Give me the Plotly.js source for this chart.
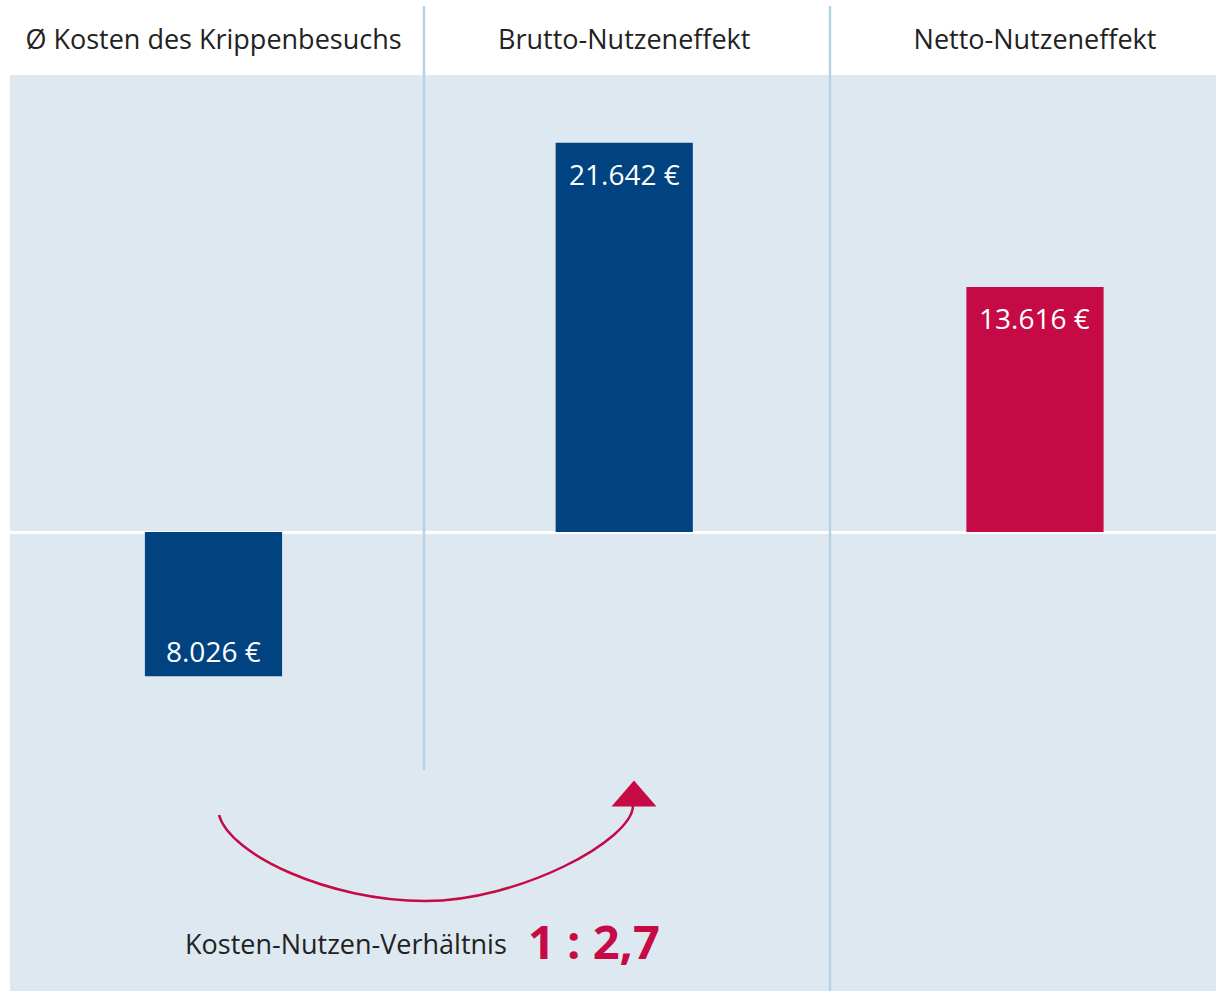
<!DOCTYPE html>
<html>
<head>
<meta charset="utf-8">
<script src="https://cdn.plot.ly/plotly-3.0.1.min.js"></script>
<style>html,body{margin:0;padding:0;background:#fff;}#chart{width:1216px;height:991px;}</style>
</head>
<body>
<div id="chart"></div>
<script>
// ---- data ----
const categories = ['Ø Kosten des Krippenbesuchs', 'Brutto-Nutzeneffekt', 'Netto-Nutzeneffekt'];
const values = [-8026, 21642, 13616];
const barColors = ['#004380', '#004380', '#c50a45'];
const ratioLabel = 'Kosten-Nutzen-Verhältnis';

// ---- helpers ----
function fmtDE(v) {
  const s = String(Math.round(Math.abs(v)));
  return s.replace(/\B(?=(\d{3})+(?!\d))/g, '.') + ' €';
}
const W = 1216, H = 991, ML = 10, MT = 75;
const PW = W - ML, PH = H - MT;
const px = x => (x - ML) / PW;        // pixel -> paper x
const py = y => (H - y) / PH;         // pixel -> paper y
function pathFrom(cmds) {
  return cmds.map(c => {
    const pts = [];
    for (let i = 1; i < c.length; i += 2) pts.push(px(c[i]).toFixed(5) + ',' + py(c[i + 1]).toFixed(5));
    return c[0] + ' ' + pts.join(' ');
  }).join(' ');
}

const crimson = '#c50a45';
const ratio = values[1] / Math.abs(values[0]);
const ratioText = '1 : ' + ratio.toFixed(1).replace('.', ',');

const trace = {
  type: 'bar',
  x: categories.map((c, i) => i),
  y: values,
  marker: { color: barColors, line: { width: 0 } },
  hoverinfo: 'skip'
};

const annotations = values.map((v, i) => ({
  x: i, y: v, xref: 'x', yref: 'y',
  text: fmtDE(v), showarrow: false,
  yanchor: v >= 0 ? 'top' : 'bottom',
  yshift: v >= 0 ? -10 : 4,
  font: { family: 'Open Sans', size: 28, color: '#ffffff' }
}));
annotations.push({
  xref: 'paper', yref: 'paper', x: px(509), y: py(943),
  xanchor: 'right', yanchor: 'middle', showarrow: false,
  text: ratioLabel, font: { family: 'Open Sans', size: 27, color: '#222222' }
});
annotations.push({
  xref: 'paper', yref: 'paper', x: px(526), y: py(941),
  xanchor: 'left', yanchor: 'middle', showarrow: false,
  text: '<b>' + ratioText + '</b>', font: { family: 'Open Sans', size: 47, color: crimson }
});

const sepColor = '#b7d2e2';
const shapes = [
  { type: 'line', xref: 'x', yref: 'paper', x0: 0.5125, x1: 0.5125, y0: py(770), y1: py(6),
    line: { color: sepColor, width: 2.5 } },
  { type: 'line', xref: 'x', yref: 'paper', x0: 1.5009, x1: 1.5009, y0: 0, y1: py(6),
    line: { color: sepColor, width: 2.5 } },
  { type: 'path', xref: 'paper', yref: 'paper',
    path: pathFrom([['M', 219, 815], ['C', 230, 855, 330, 901, 425, 901], ['C', 520, 901, 632, 840, 633, 806]]),
    line: { color: crimson, width: 2.5 } },
  { type: 'path', xref: 'paper', yref: 'paper',
    path: pathFrom([['M', 611.5, 806.5], ['L', 634, 780.5], ['L', 656.5, 806.5]]) + ' Z',
    fillcolor: crimson, line: { color: crimson, width: 0 } }
];

const layout = {
  width: W, height: H,
  margin: { l: ML, r: 0, t: MT, b: 0, pad: 0 },
  paper_bgcolor: '#ffffff',
  plot_bgcolor: '#dde8f0',
  showlegend: false,
  bargap: 0.666,
  font: { family: 'Open Sans', color: '#222222' },
  xaxis: {
    range: [-0.4954, 2.4407], side: 'top',
    tickvals: [0, 1, 2], ticktext: categories,
    ticks: '', showgrid: false, zeroline: false, showline: false,
    tickfont: { family: 'Open Sans', size: 27, color: '#222222' },
    ticklabelstandoff: 20, fixedrange: true
  },
  yaxis: {
    range: [-25520, 25409], showticklabels: false, showgrid: false,
    zeroline: true, zerolinecolor: '#ffffff', zerolinewidth: 3, fixedrange: true
  },
  annotations: annotations,
  shapes: shapes
};

Plotly.newPlot('chart', [trace], layout, { displayModeBar: false, staticPlot: true });
</script>
</body>
</html>
